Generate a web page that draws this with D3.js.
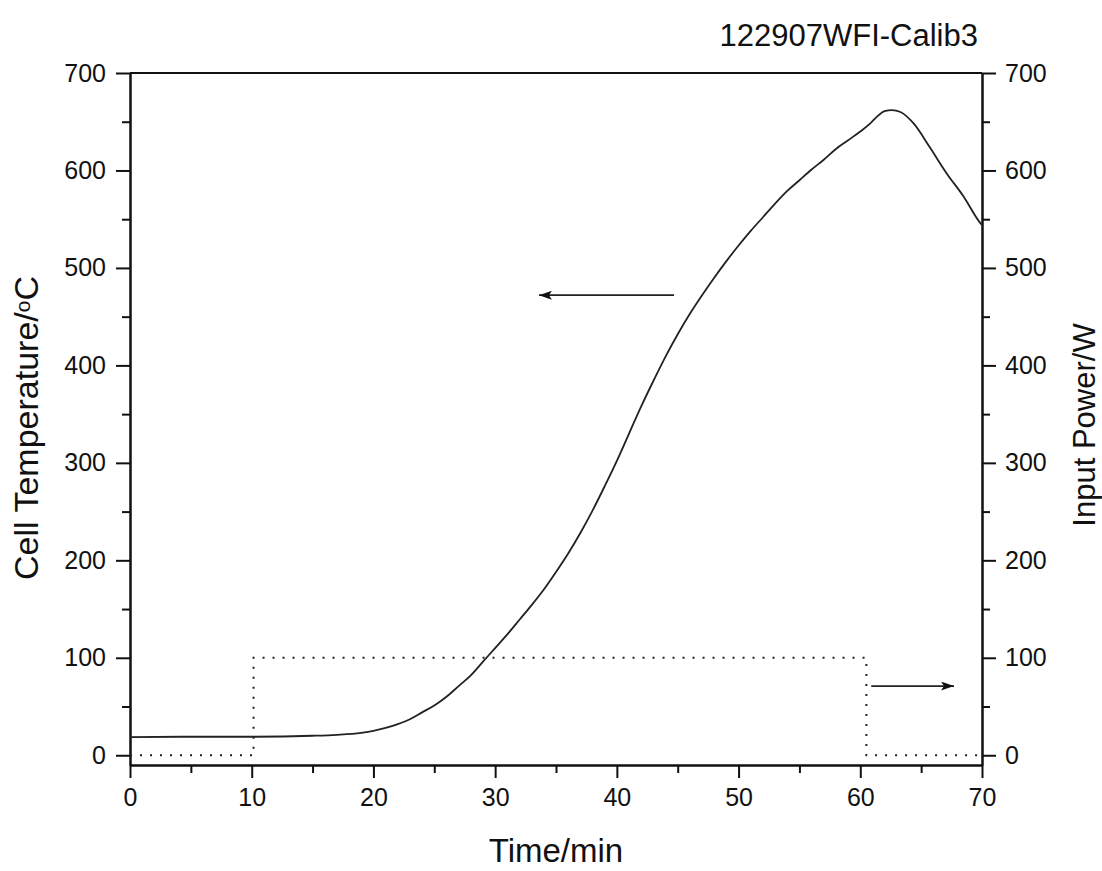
<!DOCTYPE html>
<html>
<head>
<meta charset="utf-8">
<script src="https://cdn.jsdelivr.net/npm/d3@7"></script>
<style>
  body { margin: 0; background: #fff; }
  svg text { font-family: Arial, "Liberation Sans", sans-serif; fill: #111; }
  .axis path, .axis line { stroke: #111; stroke-width: 2; }
  .axis text { font-family: Arial, "Liberation Sans", sans-serif; font-size: 25px; fill: #111; }
</style>
</head>
<body>
<div id="chart"></div>
<script>
// cell temperature (°C) against time (min)
const tempTime  = [0, 5, 10, 15, 17, 19, 20, 21, 22, 23, 24, 25, 26, 27, 28, 29, 30, 31, 32, 33, 34, 35, 36, 37, 38, 39, 40, 41, 42, 43, 44, 45, 46, 47, 48, 49, 50, 51, 52, 53, 54, 55, 56, 57, 58, 59, 60, 60.8, 61.35, 62, 62.6, 63.3, 64.4, 65.7, 67.1, 68.5, 69.8, 70];
const tempValue = [18.5, 19, 19, 20, 21, 23, 25, 28, 32, 37, 44, 51, 60, 71, 82, 96, 110, 124, 139, 154, 170, 188, 207, 228, 251, 276, 302, 330, 358, 384, 409, 432, 453, 472, 490, 507, 523, 538, 552, 566, 579, 590, 601, 611, 622, 631, 640, 648, 655, 661, 662, 660, 648, 624, 597, 573, 547, 544];

// input power (W) step
const powerTime  = [0, 10.15, 10.15, 60.5, 60.5, 70];
const powerValue = [0, 0, 100, 100, 0, 0];

// annotation arrows (data units: time, value on the axis they point to)
const arrowLeft  = { from: [44.7, 472], to: [33.6, 472] };
const arrowRight = { from: [60.9, 71], to: [67.7, 71] };

const xTicks = [0, 10, 20, 30, 40, 50, 60, 70];
const yTicks = [0, 100, 200, 300, 400, 500, 600, 700];
const title = '122907WFI-Calib3';

const margin = { top: 73, right: 120, bottom: 106, left: 130 };
const W = 1102, H = 871;
const width = W - margin.left - margin.right;
const height = H - margin.top - margin.bottom;

const svg = d3.select('#chart').append('svg')
    .attr('width', W).attr('height', H);
const g = svg.append('g').attr('transform', `translate(${margin.left},${margin.top})`);

const x = d3.scaleLinear().domain([0, 70]).range([0, width]);
const yL = d3.scaleLinear().domain([-10, 700]).range([height, 0]);
const yR = d3.scaleLinear().domain([-10, 700]).range([height, 0]);

// minor ticks
const xMinor = d3.range(5, 70, 10);
const yMinor = d3.range(50, 700, 100);

g.append('g').attr('class', 'axis')
    .attr('transform', `translate(0,${height})`)
    .call(d3.axisBottom(x).tickValues(xMinor).tickSize(8).tickFormat('').tickSizeOuter(0));
g.append('g').attr('class', 'axis')
    .attr('transform', `translate(0,${height})`)
    .call(d3.axisBottom(x).tickValues(xTicks).tickSize(13).tickPadding(10).tickSizeOuter(0));

g.append('g').attr('class', 'axis')
    .call(d3.axisLeft(yL).tickValues(yMinor).tickSize(8).tickFormat('').tickSizeOuter(0));
g.append('g').attr('class', 'axis')
    .call(d3.axisLeft(yL).tickValues(yTicks).tickSize(14).tickPadding(10).tickSizeOuter(0));

g.append('g').attr('class', 'axis')
    .attr('transform', `translate(${width},0)`)
    .call(d3.axisRight(yR).tickValues(yMinor).tickSize(8).tickFormat('').tickSizeOuter(0));
g.append('g').attr('class', 'axis')
    .attr('transform', `translate(${width},0)`)
    .call(d3.axisRight(yR).tickValues(yTicks).tickSize(14).tickPadding(9).tickSizeOuter(0));

// top frame line
g.append('line')
    .attr('x1', 0).attr('x2', width).attr('y1', 0).attr('y2', 0)
    .attr('stroke', '#111').attr('stroke-width', 2);

// data lines
const tempData = tempTime.map((t, i) => ({ t, v: tempValue[i] }));
const powerData = powerTime.map((t, i) => ({ t, v: powerValue[i] }));

g.append('path')
    .datum(tempData)
    .attr('fill', 'none')
    .attr('stroke', '#222')
    .attr('stroke-width', 1.8)
    .attr('d', d3.line().x(d => x(d.t)).y(d => yL(d.v)).curve(d3.curveMonotoneX));

g.append('path')
    .datum(powerData)
    .attr('fill', 'none')
    .attr('stroke', '#222')
    .attr('stroke-width', 2)
    .attr('stroke-dasharray', '2,8')
    .attr('d', d3.line().x(d => x(d.t)).y(d => yR(d.v)));

// arrows
svg.append('defs').append('marker')
    .attr('id', 'head')
    .attr('viewBox', '0 0 13 9')
    .attr('refX', 13).attr('refY', 4.5)
    .attr('markerWidth', 13).attr('markerHeight', 9)
    .attr('markerUnits', 'userSpaceOnUse')
    .attr('orient', 'auto')
    .append('path').attr('d', 'M0,0 L13,4.5 L0,9 L3,4.5 Z').attr('fill', '#111');

[[arrowLeft, yL], [arrowRight, yR]].forEach(([a, ys]) => {
    g.append('line')
        .attr('x1', x(a.from[0])).attr('y1', ys(a.from[1]))
        .attr('x2', x(a.to[0])).attr('y2', ys(a.to[1]))
        .attr('stroke', '#222').attr('stroke-width', 1.8)
        .attr('marker-end', 'url(#head)');
});

// titles
svg.append('text')
    .attr('x', 978).attr('y', 46)
    .attr('text-anchor', 'end')
    .style('font-size', '31px')
    .text(title);

svg.append('text')
    .attr('x', margin.left + width / 2).attr('y', 862)
    .attr('text-anchor', 'middle')
    .style('font-size', '33px')
    .text('Time/min');

const yl = svg.append('text')
    .attr('transform', `translate(38,428) rotate(-90)`)
    .attr('text-anchor', 'middle')
    .style('font-size', '34px');
yl.append('tspan').text('Cell Temperature/');
yl.append('tspan').attr('baseline-shift', '40%').style('font-size', '21px').text('o');
yl.append('tspan').text('C');

svg.append('text')
    .attr('transform', `translate(1095,425) rotate(-90)`)
    .attr('text-anchor', 'middle')
    .style('font-size', '31px')
    .text('Input Power/W');
</script>
</body>
</html>
